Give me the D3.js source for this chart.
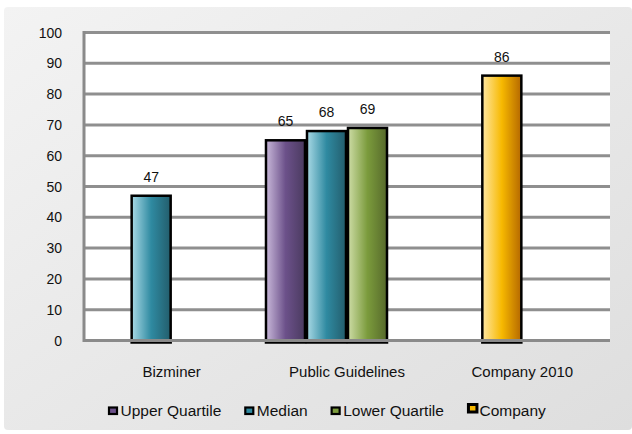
<!DOCTYPE html>
<html>
<head>
<meta charset="utf-8">
<script src="https://cdn.jsdelivr.net/npm/d3@7/dist/d3.min.js"></script>
<style>
  html, body { margin: 0; padding: 0; background: #fff; }
  svg { display: block; font-family: "Liberation Sans", Arial, sans-serif; }
</style>
</head>
<body>
<div id="chart"></div>
<script>
// categories along the x axis
const categories = ['Bizminer', 'Public Guidelines', 'Company 2010'];
// series (legend order) and their values per category, null = no bar
const seriesNames = ['Upper Quartile', 'Median', 'Lower Quartile', 'Company'];
const upperQuartile = [null, 65, null];
const median = [47, 68, null];
const lowerQuartile = [null, 69, null];
const company = [null, null, 86];
const yTicks = [0, 10, 20, 30, 40, 50, 60, 70, 80, 90, 100];

const W = 632, H = 434;
const plot = { left: 84, right: 610, top: 32.5, bottom: 340.5 };

// gradient colours, light edge -> body -> dark edge
const palette = {
  'Upper Quartile': ['#c9b9da', '#6c518a', '#4a3a5f'],
  'Median': ['#a9d9e5', '#2f8aa1', '#235d6c'],
  'Lower Quartile': ['#cddca6', '#7b9b3c', '#56692b'],
  'Company': ['#ffe7a3', '#f7b900', '#b56800']
};
// Excel put the company bar in the median slot of its group
const slotOf = { 'Company': 'Median' };

const seriesValues = [upperQuartile, median, lowerQuartile, company];
const bars = [];
seriesNames.forEach((s, i) => {
  seriesValues[i].forEach((v, j) => {
    if (v != null) bars.push({ series: s, category: categories[j], value: v });
  });
});

const svg = d3.select('#chart').append('svg')
  .attr('width', W).attr('height', H);

const defs = svg.append('defs');

// panel background
const bg = defs.append('linearGradient').attr('id', 'bg')
  .attr('x1', '0%').attr('y1', '0%').attr('x2', '100%').attr('y2', '100%');
bg.append('stop').attr('offset', '0%').attr('stop-color', '#f3f3f3');
bg.append('stop').attr('offset', '100%').attr('stop-color', '#dedede');

seriesNames.forEach((s, i) => {
  const g = defs.append('linearGradient').attr('id', 'grad' + i)
    .attr('x1', '0%').attr('y1', '0%').attr('x2', '100%').attr('y2', '0%');
  const c = palette[s];
  g.append('stop').attr('offset', '0%').attr('stop-color', c[0]);
  g.append('stop').attr('offset', '50%').attr('stop-color', c[1]);
  g.append('stop').attr('offset', '100%').attr('stop-color', c[2]);
});

svg.append('rect')
  .attr('x', 4).attr('y', 7).attr('width', W - 4).attr('height', 423)
  .attr('rx', 4)
  .attr('fill', 'url(#bg)');

// plot area
svg.append('rect')
  .attr('x', plot.left).attr('y', plot.top)
  .attr('width', plot.right - plot.left).attr('height', plot.bottom - plot.top)
  .attr('fill', '#fff');

const x = d3.scaleBand().domain(categories).range([plot.left, plot.right]);
const xs = d3.scaleBand().domain(seriesNames)
  .range([0, x.bandwidth()]).paddingOuter(0.138);
const y = d3.scaleLinear().domain([0, 100]).range([plot.bottom, plot.top]);

// gridlines
svg.append('g').selectAll('line')
  .data(yTicks.filter(d => d > 0))
  .join('line')
  .attr('x1', plot.left).attr('x2', plot.right)
  .attr('y1', d => y(d)).attr('y2', d => y(d))
  .attr('stroke', '#8f8f8f').attr('stroke-width', 3);

// y tick labels
svg.append('g').selectAll('text')
  .data(yTicks)
  .join('text')
  .attr('x', 62).attr('y', d => y(d))
  .attr('text-anchor', 'end').attr('dominant-baseline', 'central')
  .attr('font-size', 14).attr('fill', '#111')
  .text(d => d);

// bars
const bx = d => x(d.category) + xs(slotOf[d.series] || d.series);
svg.append('g').selectAll('rect')
  .data(bars)
  .join('rect')
  .attr('x', d => bx(d) + 1)
  .attr('y', d => y(d.value))
  .attr('width', xs.bandwidth() - 2)
  .attr('height', d => y(0) - y(d.value) + 2)
  .attr('fill', d => `url(#grad${seriesNames.indexOf(d.series)})`)
  .attr('stroke', '#000').attr('stroke-width', 2.5);

// value labels
svg.append('g').selectAll('text')
  .data(bars)
  .join('text')
  .attr('x', d => bx(d) + xs.bandwidth() / 2)
  .attr('y', d => y(d.value) - 14)
  .attr('text-anchor', 'middle')
  .attr('font-size', 14).attr('fill', '#111')
  .text(d => d.value);

// axis lines
svg.append('line')
  .attr('x1', plot.left).attr('x2', plot.right)
  .attr('y1', y(0)).attr('y2', y(0))
  .attr('stroke', '#8a8a8a').attr('stroke-width', 3);
svg.append('line')
  .attr('x1', plot.left).attr('x2', plot.left)
  .attr('y1', plot.top - 1.5).attr('y2', y(0) + 1.5)
  .attr('stroke', '#8a8a8a').attr('stroke-width', 3);

// category labels
svg.append('g').selectAll('text')
  .data(categories)
  .join('text')
  .attr('x', d => x(d) + x.bandwidth() / 2)
  .attr('y', 377)
  .attr('text-anchor', 'middle')
  .attr('font-size', 15).attr('fill', '#111')
  .text(d => d);

// legend
const legend = svg.append('g');
let lx = 108;
seriesNames.forEach((s, i) => {
  const isCompany = s === 'Company';
  if (isCompany) {
    legend.append('rect')
      .attr('x', lx + 1.5).attr('y', 404.5)
      .attr('width', 8.5).attr('height', 7.5)
      .attr('fill', palette[s][1])
      .attr('stroke', '#000').attr('stroke-width', 3);
  } else {
    legend.append('rect')
      .attr('x', lx + 1).attr('y', 407.5)
      .attr('width', 8).attr('height', 6.5)
      .attr('fill', palette[s][1])
      .attr('stroke', '#000').attr('stroke-width', 2.2);
  }
  const t = legend.append('text')
    .attr('x', lx + 12.5).attr('y', 416)
    .attr('font-size', 15.5).attr('fill', '#111')
    .text(s);
  lx += 12.5 + t.node().getComputedTextLength() + 23;
});
</script>
</body>
</html>
